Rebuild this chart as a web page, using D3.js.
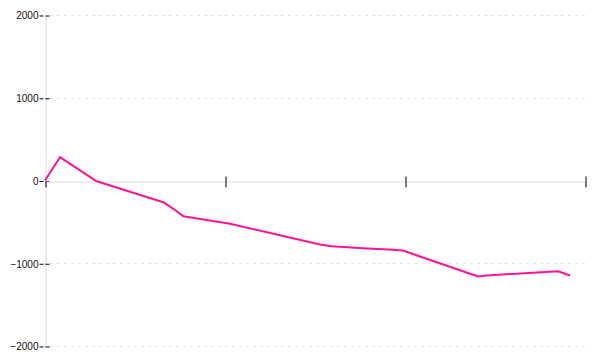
<!DOCTYPE html>
<html>
<head>
<meta charset="utf-8">
<script src="https://cdn.jsdelivr.net/npm/d3@7"></script>
<style>
  body { margin: 0; background: #fff; }
</style>
</head>
<body>
<div id="chart"></div>
<script>
// Data.
// X position in axis units (4 unlabelled ticks at 0, 1, 2, 3).
const periods = [0, 0.083, 0.287, 0.657, 0.713, 0.768, 1.028, 1.528, 1.593, 1.767, 1.933, 1.989, 2.083, 2.407, 2.454, 2.711, 2.85, 2.917];
const values = [0, 282, -10, -262, -342, -431, -523, -773, -794, -818, -837, -846, -918, -1160, -1148, -1115, -1096, -1148];
const xTicks = [0, 1, 2, 3];
const yTicks = [-2000, -1000, 0, 1000, 2000];

const data = periods.map((p, i) => ({ x: p, value: values[i] }));

// Figure
const width = 600;
const height = 360;
const marginTop = 15;
const marginRight = 15;
const marginBottom = 14;
const marginLeft = 45;

const svg = d3.select("#chart").append("svg")
    .attr("width", width)
    .attr("height", height)
    .style("font", "10px 'DejaVu Sans', Verdana, sans-serif");

const x = d3.scaleLinear()
    .domain([0, 3])
    .range([marginLeft, width - marginRight]);

const y = d3.scaleLinear()
    .domain([-2000, 2000])
    .range([height - marginBottom, marginTop]);

// Grid lines (dashed)
svg.append("g")
  .selectAll("line")
  .data(yTicks.filter(d => d !== 0))
  .join("line")
    .attr("x1", marginLeft + 5)
    .attr("x2", width - marginRight)
    .attr("y1", d => Math.round(y(d)) + 0.5)
    .attr("y2", d => Math.round(y(d)) + 0.5)
    .attr("stroke", "#e4e4e4")
    .attr("stroke-dasharray", "3,4");

// Y-axis
const yAxis = svg.append("g")
    .attr("transform", `translate(${marginLeft + 0.5},0.5)`)
    .call(d3.axisLeft(y).tickValues(yTicks).tickSize(0).tickPadding(7).tickFormat(d3.format("d")));
yAxis.select(".domain").attr("stroke", "#dcdcdc");
yAxis.selectAll("text").attr("fill", "#111").attr("dy", "0.34em");
yAxis.selectAll(".tick").append("line")
    .attr("x1", -6)
    .attr("x2", 4)
    .attr("stroke", "#000")
    .attr("stroke-dasharray", "4,2");

// X-axis on the zero line
const xAxis = svg.append("g")
    .attr("transform", `translate(0.5,${Math.round(y(0)) + 0.5})`)
    .call(d3.axisBottom(x).tickValues(xTicks).tickSize(6).tickFormat(""));
xAxis.select(".domain").attr("stroke", "#dcdcdc");
xAxis.selectAll(".tick line")
    .attr("y1", d => d === 0 ? 0 : -5)
    .attr("stroke", "#000");

// Line
const line = d3.line().x(d => x(d.x)).y(d => y(d.value));
svg.append("path")
    .datum(data)
    .attr("fill", "none")
    .attr("stroke", "#ff1493")
    .attr("stroke-width", 2)
    .attr("stroke-linejoin", "round")
    .attr("d", line);
</script>
</body>
</html>
